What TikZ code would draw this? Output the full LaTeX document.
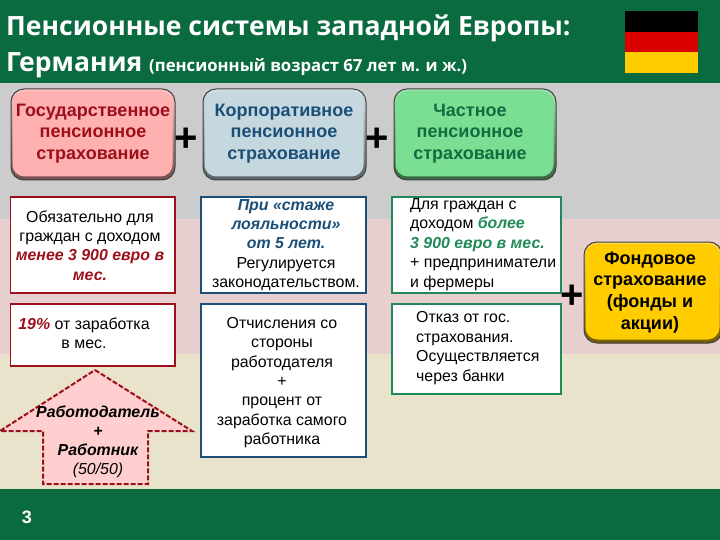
\documentclass[tikz,border=0pt]{standalone}
\usepackage{fontspec}
\setmainfont{Liberation Sans}
\newfontfamily\titlefont{Open Sans}
\definecolor{hdr}{HTML}{0B6B40}
\definecolor{bgray}{HTML}{CCCCCC}
\definecolor{bpink}{HTML}{E8CFCF}
\definecolor{bbeige}{HTML}{E9E3CB}
\definecolor{cred}{HTML}{9C0F1B}
\definecolor{cblue}{HTML}{1B4F78}
\definecolor{cgreen}{HTML}{1F8A58}
\definecolor{cgreend}{HTML}{146B42}
\definecolor{fred}{HTML}{FFB0B0}
\definecolor{fblue}{HTML}{C5D8E0}
\definecolor{fgreen}{HTML}{7ADF92}
\definecolor{fyellow}{HTML}{FFCC00}
\definecolor{fpinkarrow}{HTML}{FFCFCF}
\tikzset{
  x=1pt,y=-1pt,
  band/.style={fill=#1,draw=none},
  bevel/.style={rounded corners=13pt,draw=black!75,line width=1pt,
    top color=#1!70!white,bottom color=#1!45!black,
    path picture={\fill[#1,rounded corners=12pt]
      ([xshift=1.5pt,yshift=-2pt]path picture bounding box.north west) rectangle
      ([xshift=-2.5pt,yshift=3.5pt]path picture bounding box.south east);}},
  headtext/.style={font=\fontsize{18}{21.4}\selectfont\bfseries,align=center,inner sep=0pt},
  infobox/.style={draw=#1,line width=1.6pt,fill=white,inner sep=0pt,outer sep=0pt},
  bodytext/.style={font=\fontsize{15.9}{19.4}\selectfont,align=center,inner sep=0pt},
  plussign/.style={font=\fontsize{40}{40}\selectfont\bfseries,text=black,inner sep=0pt},
  titletext/.style={anchor=base west,inner sep=0pt,text=white,font=\titlefont\fontsize{26.5}{26.5}\selectfont\bfseries},
}
\begin{document}
\begin{tikzpicture}
\useasboundingbox (0,0) rectangle (720,540);
\fill[band=hdr] (0,0) rectangle (720,83);
\fill[band=bgray] (0,83) rectangle (720,219);
\fill[band=bpink] (0,219) rectangle (720,354);
\fill[band=bbeige] (0,354) rectangle (720,489);
\fill[band=hdr] (0,489) rectangle (720,540);
% title
\node[titletext] (t1) at (6,36) {Пенсионные системы западной Европы:};
\node[titletext] (t2) at (6,72) {Германия \fontsize{16.7}{16.7}\selectfont(пенсионный возраст 67 лет м. и ж.)};
% flag
\fill[black] (625,11) rectangle (698,32);
\fill[red!85!black] (625,32) rectangle (698,52);
\fill[fyellow] (625,52) rectangle (698,73);
% head boxes
\path[bevel=fred] (11,89) rectangle (175,180);
\node[headtext,text=cred] (h1) at (93,133.5) {Государственное\\пенсионное\\страхование};
\path[bevel=fblue] (203,89) rectangle (366,180);
\node[headtext,text=cblue] (h2) at (284,133.5) {Корпоративное\\пенсионное\\страхование};
\path[bevel=fgreen] (394,89) rectangle (556,180);
\node[headtext,text=cgreend] (h3) at (470,133.5) {Частное\\пенсионное\\страхование};
\path[bevel=fyellow] (584,242) rectangle (722,343);
\node[headtext,text=black,font=\fontsize{18}{21.8}\selectfont\bfseries] (h4) at (650,292.5) {Фондовое\\страхование\\(фонды и\\акции)};
% plus
\node[plussign] (p1) at (186,140) {+};
\node[plussign] (p2) at (377,140) {+};
\node[plussign] (p3) at (572,297) {+};
% info boxes
\draw[infobox=cred] (10.5,197) rectangle (175,293);
\node[bodytext] (r1) at (90,245.5) {Обязательно для\\граждан с доходом\\\textcolor{cred}{\textbf{\textit{менее 3 900 евро в}}}\\\textcolor{cred}{\textbf{\textit{мес.}}}};
\draw[infobox=cred] (10.5,304) rectangle (175,366);
\node[bodytext] (r2) at (84,333) {\textcolor{cred}{\textbf{\textit{19\%}}} от заработка\\в мес.};
\draw[infobox=cblue] (201,197) rectangle (366,293);
\node[bodytext] (b1) at (286,245) {\textcolor{cblue}{\textbf{\textit{При «стаже}}}\\\textcolor{cblue}{\textbf{\textit{лояльности»}}}\\\textcolor{cblue}{\textbf{\textit{от 5 лет.}}}\\Регулируется\\законодательством.};
\draw[infobox=cblue] (201,304) rectangle (366,457);
\node[bodytext] (b2) at (282,382.5) {Отчисления со\\стороны\\работодателя\\+\\процент от\\заработка самого\\работника};
\draw[infobox=cgreen] (392,197) rectangle (561,293);
\node[bodytext,align=left,anchor=west] (g1) at (410,244.5) {Для граждан с\\доходом \textcolor{cgreen}{\textbf{\textit{более}}}\\\textcolor{cgreen}{\textbf{\textit{3 900 евро в мес.}}}\\+ предприниматели\\и фермеры};
\draw[infobox=cgreen] (392,304) rectangle (561,394);
\node[bodytext,align=left,anchor=west] (g2) at (416,348) {Отказ от гос.\\страхования.\\Осуществляется\\через банки};
% arrow
\draw[draw=cred,line width=2pt,dash pattern=on 5pt off 2pt,fill=fpinkarrow]
  (95,370) -- (192,431) -- (148,431) -- (148,484) -- (43,484) -- (43,431) -- (0,431) -- cycle;
\node[bodytext,font=\fontsize{15.9}{19}\selectfont\bfseries\itshape] (ar) at (98,442) {Работодатель\\+\\Работник\\\textnormal{\textit{(50/50)}}};
\node[inner sep=0pt,text=white,font=\fontsize{18}{18}\selectfont\bfseries] (num) at (27,517) {3};
\end{tikzpicture}
\end{document}
